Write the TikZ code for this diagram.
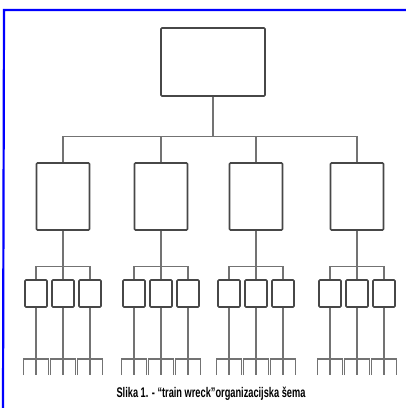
\documentclass[tikz,border=0pt]{standalone}
\usepackage{fontspec}
\setmainfont{Liberation Sans}
\begin{document}
\begin{tikzpicture}[x=1pt,y=-1pt,
  box/.style={draw=black!72,line width=1.6pt,rounded corners=1pt,inner sep=0pt,fill=white},
  topbox/.style={box,minimum width=104pt,minimum height=68pt},
  midbox/.style={box,minimum width=53pt,minimum height=67pt},
  smallbox/.style={box,minimum width=22pt,minimum height=27pt},
  conn/.style={draw=black!55,line width=1.1pt},
  frame/.style={draw=blue,line width=2.2pt}]
\useasboundingbox (0,0) rectangle (406,408);
\coordinate (fa) at (3,408);
\coordinate (fb) at (4,10);
\coordinate (fc) at (406,10);
\draw[frame] (fa) -- (fb) -- (fc);
\node[topbox] (top) at (213,62) {};
\foreach \c [count=\i] in {63,161,256,357} {
  \node[midbox] (m\i) at (\c,196.5) {};
  \draw[conn] (top.south) -- ++(0,40) -| (m\i.north);
  \foreach \d [count=\j] in {-27,0,27} {
    \node[smallbox] (s\i\j) at (\c+\d,293.5) {};
    \draw[conn] (m\i.south) -- ++(0,36) -| (s\i\j.north);
    \coordinate (b\i\j) at (\c+\d,375);
    \coordinate (l\i\j) at (\c+\d-12.5,375);
    \coordinate (r\i\j) at (\c+\d+12.5,375);
    \draw[conn] (s\i\j.south) -- (b\i\j);
    \draw[conn] (l\i\j) -- ++(0,-16) -| (r\i\j);
  }
}
\node[font=\bfseries\fontsize{14}{15}\selectfont,inner sep=0pt] (cap) at (211,394)
  {\scalebox{0.66}[1]{Slika 1. - “train wreck”organizacijska šema}};
\end{tikzpicture}
\end{document}
